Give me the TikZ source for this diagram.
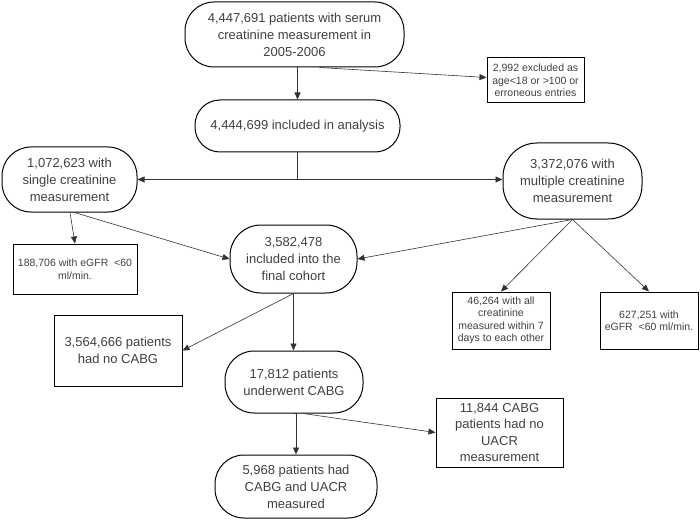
\documentclass[tikz,border=0pt]{standalone}
\usepackage{fontspec}
\setmainfont{Liberation Sans}
\usetikzlibrary{arrows.meta,calc}
\definecolor{txt}{HTML}{404040}
\tikzset{
  stad/.style={draw=black,line width=1pt,rounded corners=29pt,align=center,text=txt,
    font=\fontsize{13}{17}\selectfont,inner sep=2pt},
  bigbox/.style={draw=black,line width=1pt,align=center,text=txt,
    font=\fontsize{13}{16.5}\selectfont,inner sep=2pt},
  smallbox/.style={draw=black,line width=1pt,align=center,text=txt,
    font=\fontsize{10.5}{12.5}\selectfont,inner sep=2pt},
  conn/.style={draw=black!80,line width=0.6pt},
  arr/.style={conn,-{Triangle[length=7pt,width=6pt]}}
}
\begin{document}
\begin{tikzpicture}[x=1pt,y=-1pt]
\useasboundingbox (0,0) rectangle (700,521);
\node[stad,minimum width=219pt,minimum height=65pt] (A) at (294.5,34.5)
  {4,447,691 patients with serum\\creatinine measurement in\\2005-2006};
\node[stad,minimum width=205pt,minimum height=52pt,rounded corners=25pt] (B) at (297.5,126)
  {4,444,699 included in analysis};
\node[smallbox,minimum width=97pt,minimum height=45pt] (excl) at (535.5,80.5)
  {2,992 excluded as\\age<18 or >100 or\\erroneous entries};
\node[stad,minimum width=135pt,minimum height=65pt] (single) at (69.5,179.5)
  {1,072,623 with\\single creatinine\\measurement};
\node[stad,minimum width=139pt,minimum height=76pt,rounded corners=34pt] (multi) at (572.5,181)
  {3,372,076 with\\multiple creatinine\\measurement};
\node[smallbox,minimum width=124pt,minimum height=50pt] (egfrA) at (75,269)
  {188,706 with eGFR\ \ <60\\ml/min.};
\node[stad,minimum width=127pt,minimum height=68pt,rounded corners=31pt] (final) at (293.5,259)
  {3,582,478\\included into the\\final cohort};
\node[smallbox,minimum width=98pt,minimum height=57pt] (seven) at (501,320.5)
  {46,264 with all\\creatinine\\measured within 7\\days to each other};
\node[smallbox,minimum width=98pt,minimum height=57pt] (egfrB) at (649,320.5)
  {627,251 with\\eGFR\ \ <60 ml/min.};
\node[bigbox,minimum width=128pt,minimum height=71pt] (nocabg) at (118,350.5)
  {3,564,666 patients\\had no CABG};
\node[stad,minimum width=138pt,minimum height=62pt] (cabg) at (294,382)
  {17,812 patients\\underwent CABG};
\node[bigbox,minimum width=127pt,minimum height=69pt] (nouacr) at (499.5,432.5)
  {11,844 CABG\\patients had no\\UACR\\measurement};
\node[stad,minimum width=162pt,minimum height=63pt] (both) at (296,486.5)
  {5,968 patients had\\CABG and UACR\\measured};
% connectors
\draw[arr] (B.north |- A.south) -- (B.north);
\draw[arr] ($(A.south)+(25,0)$) -- ($(excl.west)+(0,-3)$);
\coordinate (j) at (B.south |- single.east);
\draw[conn] (B.south) -- (j);
\draw[arr] (j) -- (single.east);
\draw[arr] (j) -- (j -| multi.west);
\draw[arr] ($(single.south)+(0.5,0)$) -- (egfrA.north);
\draw[arr] ($(single.south)+(5,0)$) -- (final.west);
\draw[arr] (multi.south) -- (final.east);
\draw[arr] (multi.south) -- (seven.north);
\draw[arr] (multi.south) -- (egfrB.north);
\draw[arr] (final.south) -- (final.south |- cabg.north);
\draw[arr] (final.south) -- (nocabg.east);
\draw[arr] (cabg.south) -- (cabg.south -| both.north) -- (both.north);
\draw[arr] ($(cabg.south)+(9,0)$) -- (nouacr.west);
\end{tikzpicture}
\end{document}
